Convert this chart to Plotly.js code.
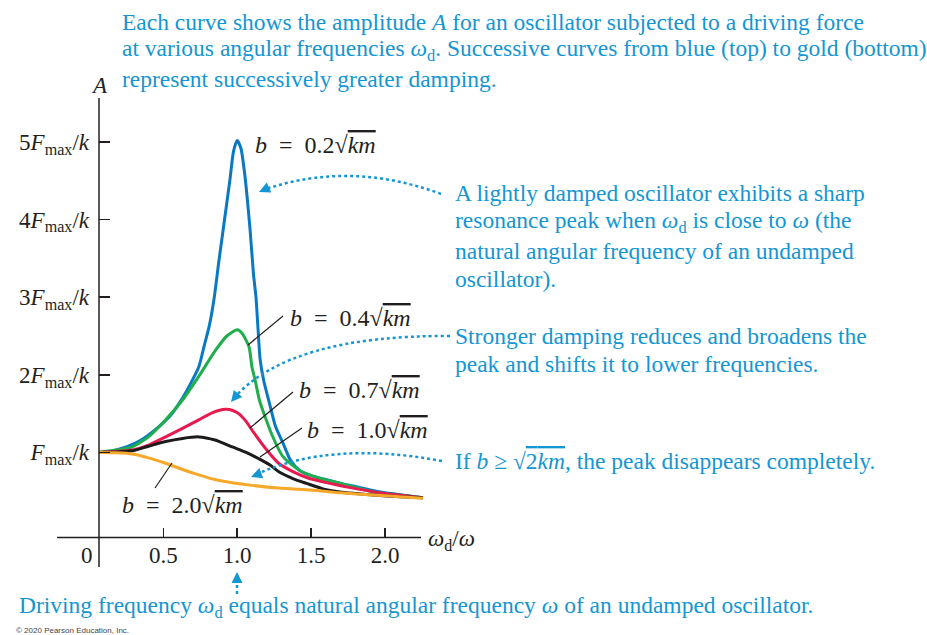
<!DOCTYPE html>
<html>
<head>
<meta charset="utf-8">
<script src="https://cdn.plot.ly/plotly-3.0.1.min.js"></script>
<style>html,body{margin:0;padding:0;background:#fff;}#chart{width:927px;height:635px;}</style>
</head>
<body>
<div id="chart"></div>
<script>
// ---- data (x = omega_d/omega, y = A in units of Fmax/k) ----
const b02_x = [0.065,0.15,0.25,0.35,0.45,0.55,0.62,0.68,0.74,0.78,0.81,0.845,0.875,0.905,0.95,0.975,1.0,1.025,1.05,1.087,1.11,1.127,1.14,1.155,1.18,1.22,1.26,1.31,1.36,1.42,1.5,1.6,1.7,1.8,1.9,2.0,2.1,2.257];
const b02_y = [1.0,1.02,1.07,1.16,1.3,1.48,1.67,1.87,2.1,2.4,2.62,3.0,3.45,3.87,4.5,4.88,5.02,4.92,4.6,3.87,3.3,3.0,2.62,2.2,1.92,1.62,1.33,1.12,0.9,0.77,0.7,0.65,0.6,0.56,0.515,0.48,0.455,0.415];

const b04_x = [0.065,0.15,0.29,0.40,0.516,0.63,0.74,0.855,0.93,1.0,1.035,1.08,1.10,1.125,1.15,1.23,1.31,1.42,1.55,1.7,1.92,2.1,2.257];
const b04_y = [1.0,1.02,1.07,1.2,1.42,1.675,1.98,2.32,2.5,2.58,2.53,2.36,2.1,1.9,1.675,1.25,0.945,0.77,0.67,0.6,0.49,0.45,0.415];

const b07_x = [0.065,0.18,0.29,0.40,0.516,0.63,0.74,0.83,0.92,0.97,1.01,1.06,1.11,1.2,1.28,1.38,1.48,1.58,1.7,1.81,2.0,2.257];
const b07_y = [1.0,1.01,1.03,1.095,1.2,1.31,1.42,1.51,1.555,1.54,1.5,1.4,1.26,1.03,0.86,0.75,0.67,0.62,0.57,0.53,0.47,0.415];

const b10_x = [0.065,0.18,0.29,0.4,0.516,0.63,0.74,0.85,0.967,1.06,1.155,1.22,1.29,1.38,1.47,1.58,1.695,1.8,1.92,2.1,2.257];
const b10_y = [1.0,1.005,1.02,1.08,1.14,1.18,1.2,1.16,1.07,1.0,0.91,0.84,0.74,0.66,0.6,0.53,0.49,0.47,0.45,0.43,0.415];

const b20_x = [0.065,0.18,0.29,0.4,0.516,0.63,0.74,0.85,0.965,1.1,1.28,1.47,1.7,1.92,2.1,2.257];
const b20_y = [1.0,0.995,0.98,0.93,0.86,0.78,0.71,0.65,0.61,0.575,0.54,0.52,0.48,0.45,0.43,0.41];

const xTickVals = [0.5,1.0,1.5,2.0];
const xTickText = ["0.5","1.0","1.5","2.0"];
const yTickVals = [1,2,3,4,5];
const yTickText = ["<i>F</i><sub>max</sub>/<i>k</i>","2<i>F</i><sub>max</sub>/<i>k</i>","3<i>F</i><sub>max</sub>/<i>k</i>","4<i>F</i><sub>max</sub>/<i>k</i>","5<i>F</i><sub>max</sub>/<i>k</i>"];

// ---- geometry ----
const L = 99, R = 430, T = 98, B = 538;
const PX = px => (px - L) / (R - L);
const PY = py => (B - py) / (B - T);
const xRange = [(L - 89.4) / 147.8, (R - 89.4) / 147.8];
const yRange = [(530 - B) / 77.6, (530 - T) / 77.6];

const SERIF = "Liberation Serif, Times New Roman, serif";
const INK = "#231f20";
const CYAN = "#1496d2";
const CS = 23.5;

function curve(x, y, color) {
  return {x: x, y: y, type: "scatter", mode: "lines",
    line: {color: color, width: 3, shape: "spline", smoothing: 0.6},
    hoverinfo: "skip", showlegend: false};
}
const traces = [
  curve(b02_x, b02_y, "#0a79c3"),
  curve(b04_x, b04_y, "#1fae4b"),
  curve(b07_x, b07_y, "#e8194f"),
  curve(b10_x, b10_y, "#1c1a1a"),
  curve(b20_x, b20_y, "#f7a82a")
];

function ann(px, py, text, opts) {
  return Object.assign({xref: "paper", yref: "paper", x: PX(px), y: PY(py), text: text,
    showarrow: false, xanchor: "left", yanchor: "middle", align: "left",
    font: {family: SERIF, size: 23, color: INK}}, opts || {});
}
function cyan(px, py, text) {
  return ann(px, py, text, {font: {family: SERIF, size: CS, color: CYAN}});
}
function seg(x0, y0, x1, y1, color, width, dash) {
  return {type: "line", xref: "paper", yref: "paper", x0: PX(x0), y0: PY(y0), x1: PX(x1), y1: PY(y1),
    line: {color: color, width: width, dash: dash || "solid"}};
}
function qpath(p0, c, p1) {
  return {type: "path", xref: "paper", yref: "paper",
    path: "M" + PX(p0[0]) + "," + PY(p0[1]) + " Q" + PX(c[0]) + "," + PY(c[1]) + " " + PX(p1[0]) + "," + PY(p1[1]),
    line: {color: CYAN, width: 2.5, dash: "dot"}};
}
function head(px, py, ax, ay) {
  return {xref: "paper", yref: "paper", x: PX(px), y: PY(py), ax: ax, ay: ay, text: "",
    showarrow: true, arrowhead: 2, arrowsize: 1.1, arrowwidth: 2, arrowcolor: CYAN};
}
const OL = s => "<span style='text-decoration:overline'>" + s + "</span>";
const SP = "\u2002";
const bLabel = v => "<i>b</i>" + SP + "=" + SP + v + "√" + OL("<i>km</i>");

const shapes = [
  seg(57, 537.5, 421, 537.5, INK, 1.5),
  seg(99, 98, 99, 567, INK, 1.5),
  // leader lines
  seg(248, 345, 283, 316, INK, 1.2),
  seg(250, 428, 293, 392, INK, 1.2),
  seg(260, 457, 302, 428, INK, 1.2),
  seg(172, 463, 155, 488, INK, 1.2),
  // dotted callout arrows
  qpath([441, 194], [350, 160], [263, 190]),
  qpath([450, 336], [290, 335], [234, 398]),
  qpath([442, 461], [330, 440], [255, 475]),
  seg(237, 594, 237, 579, CYAN, 2.5, "dot")
];

const annotations = [
  cyan(120, 22, "Each curve shows the amplitude <i>A</i> for an oscillator subjected to a driving force"),
  cyan(120, 50, "at various angular frequencies <i>ω</i><sub>d</sub>. Successive curves from blue (top) to gold (bottom)"),
  cyan(120, 79, "represent successively greater damping."),
  ann(99, 86, "<i>A</i>", {xanchor: "center"}),
  ann(426, 540, "<i>ω</i><sub>d</sub>/<i>ω</i>"),
  ann(87, 555, "0", {xanchor: "center"}),
  ann(253, 145, bLabel("0.2"), {font: {family: SERIF, size: 24, color: INK}}),
  ann(288, 318, bLabel("0.4"), {font: {family: SERIF, size: 24, color: INK}}),
  ann(297, 390, bLabel("0.7"), {font: {family: SERIF, size: 24, color: INK}}),
  ann(305, 430, bLabel("1.0"), {font: {family: SERIF, size: 24, color: INK}}),
  ann(120, 505, bLabel("2.0"), {font: {family: SERIF, size: 24, color: INK}}),
  cyan(453, 193, "A lightly damped oscillator exhibits a sharp"),
  cyan(453, 222, "resonance peak when <i>ω</i><sub>d</sub> is close to <i>ω</i> (the"),
  cyan(453, 251, "natural angular frequency of an undamped"),
  cyan(453, 279, "oscillator)."),
  cyan(453, 336, "Stronger damping reduces and broadens the"),
  cyan(453, 364, "peak and shifts it to lower frequencies."),
  cyan(453, 461, "If <i>b</i> ≥ √" + OL("2<i>km</i>") + ", the peak disappears completely."),
  cyan(17, 607, "Driving frequency <i>ω</i><sub>d</sub> equals natural angular frequency <i>ω</i> of an undamped oscillator."),
  ann(14, 630, "© 2020 Pearson Education, Inc.", {font: {family: "Liberation Sans, Arial, sans-serif", size: 8, color: "#444"}}),
  head(259, 192, 9, -4),
  head(231, 402, 5, -6),
  head(251, 477, 8, -3),
  head(237, 572, 0, 8)
];

const layout = {
  width: 927, height: 635,
  margin: {l: L, r: 927 - R, t: T, b: 635 - B, pad: 0},
  paper_bgcolor: "#ffffff", plot_bgcolor: "#ffffff",
  showlegend: false,
  xaxis: {range: xRange, showgrid: false, zeroline: false, showline: false,
    tickmode: "array", tickvals: xTickVals, ticktext: xTickText,
    ticks: "inside", ticklen: 10, tickwidth: 1.5, tickcolor: INK,
    tickfont: {family: SERIF, size: 23, color: INK}, ticklabelstandoff: 1, fixedrange: true},
  yaxis: {range: yRange, showgrid: false, zeroline: false, showline: false,
    tickmode: "array", tickvals: yTickVals, ticktext: yTickText,
    ticks: "inside", ticklen: 11, tickwidth: 1.5, tickcolor: INK,
    tickfont: {family: SERIF, size: 23, color: INK}, ticklabelstandoff: 9, fixedrange: true},
  shapes: shapes,
  annotations: annotations
};

Plotly.newPlot("chart", traces, layout, {displayModeBar: false, staticPlot: true});
</script>
</body>
</html>
